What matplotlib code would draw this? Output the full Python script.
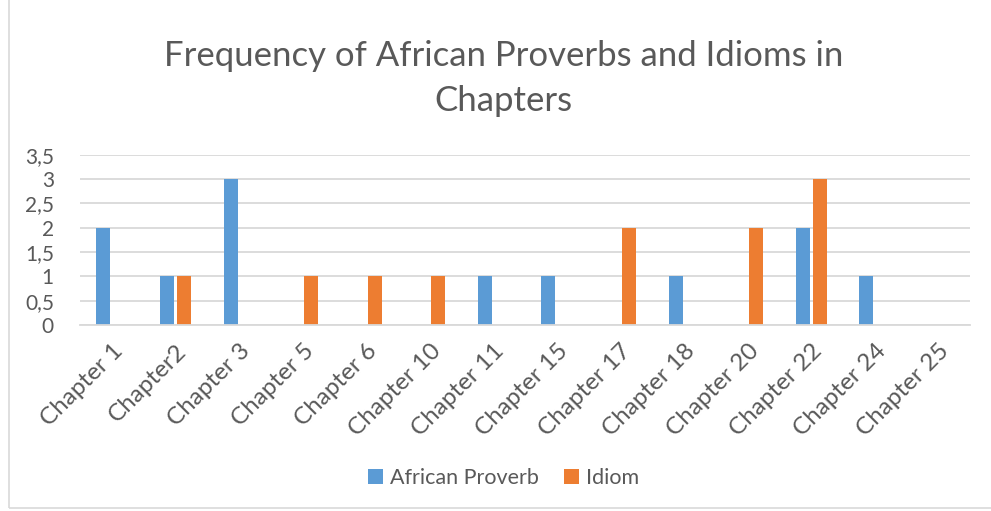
import matplotlib.pyplot as plt
import numpy as np
from matplotlib.patches import Rectangle

chapters = ["Chapter 1", "Chapter2", "Chapter 3", "Chapter 5", "Chapter 6",
            "Chapter 10", "Chapter 11", "Chapter 15", "Chapter 17", "Chapter 18",
            "Chapter 20", "Chapter 22", "Chapter 24", "Chapter 25"]
african_proverb = [2, 1, 3, 0, 0, 0, 1, 1, 0, 1, 0, 2, 1, 0]
idiom = [0, 1, 0, 1, 1, 1, 0, 0, 2, 0, 2, 3, 0, 0]
y_ticks = [0, 0.5, 1, 1.5, 2, 2.5, 3, 3.5]
y_labels = ["0", "0,5", "1", "1,5", "2", "2,5", "3", "3,5"]

plt.rcParams["font.family"] = ["Lato", "DejaVu Sans"]
grey = "#595959"

fig = plt.figure(figsize=(9.91, 5.11), dpi=100)
ax = fig.add_axes([0.081, 0.364, 0.898, 0.333])

x = np.arange(len(chapters))
w = 0.22
ax.bar(x - w / 2 - 0.025, african_proverb, w, color="#5b9bd5", label="African Proverb")
ax.bar(x + w / 2 + 0.025, idiom, w, color="#ed7d31", label="Idiom")

ax.set_xlim(-0.5, len(chapters) - 0.5)
ax.set_ylim(0, 3.5)
ax.set_yticks(y_ticks)
ax.set_yticklabels(y_labels, fontsize=15, color=grey)
ax.set_xticks(x)
ax.set_xticklabels(chapters, rotation=45, ha="right", rotation_mode="anchor",
                   fontsize=17.5, color=grey)
ax.tick_params(axis="x", length=0, pad=11)
ax.tick_params(axis="y", length=0, pad=19)
ax.grid(axis="y", color="#d9d9d9", lw=1.3)
ax.set_axisbelow(True)
for s in ["top", "right", "left"]:
    ax.spines[s].set_visible(False)
ax.spines["bottom"].set_color("#d9d9d9")
ax.spines["bottom"].set_linewidth(1.3)

fig.text(0.508, 0.847, "Frequency of African Proverbs and Idioms in\nChapters",
         ha="center", va="center", fontsize=25, color=grey, linespacing=1.5)

ax.legend(loc="center", bbox_to_anchor=(0.508, 0.065), bbox_transform=fig.transFigure,
          ncol=2, frameon=False, fontsize=15.5, labelcolor=grey,
          handlelength=0.7, handleheight=0.7, handletextpad=0.3, columnspacing=1.2)

fig.patches.append(Rectangle((0.009, 0.006), 1.2, 1.2, transform=fig.transFigure,
                             fill=False, edgecolor="#d9d9d9", lw=1.2))

fig.savefig("out.png", dpi=100)
